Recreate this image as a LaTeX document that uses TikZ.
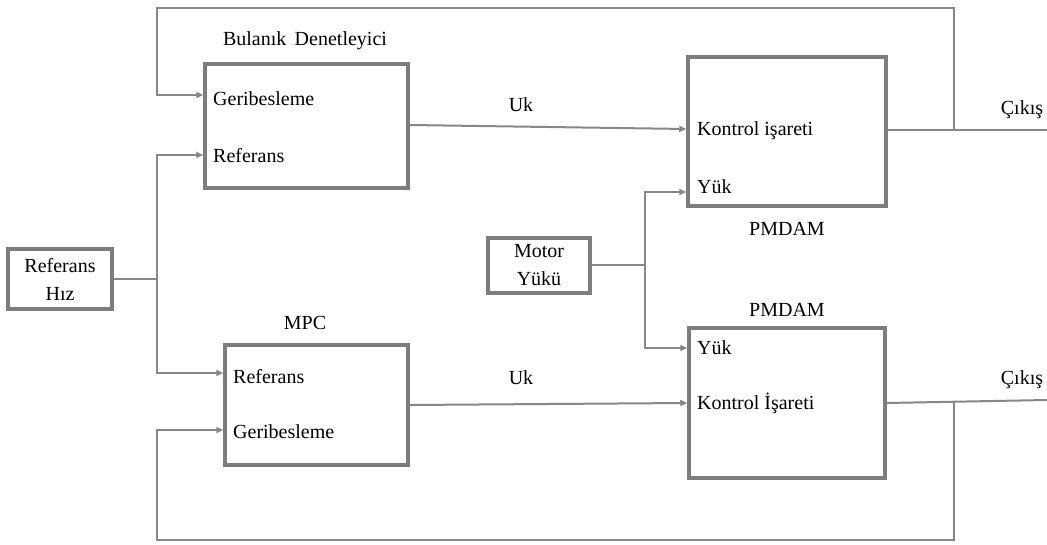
\documentclass[tikz,border=0pt]{standalone}
\usepackage{fontspec}
\setmainfont{Liberation Serif}
\usetikzlibrary{arrows.meta}
\definecolor{boxgray}{RGB}{125,125,125}
\definecolor{wiregray}{RGB}{135,135,135}
\begin{document}
\begin{tikzpicture}[x=1pt,y=-1pt,
  blk/.style={draw=boxgray,line width=3.5pt,inner sep=0pt,fill=white},
  wire/.style={draw=wiregray,line width=2pt},
  arr/.style={wire,-{Triangle[length=7pt,width=6pt]}},
  txt/.style={font=\fontsize{20}{28}\selectfont,inner sep=0pt},
  port/.style={txt,anchor=west},
]
\useasboundingbox (0,0) rectangle (1047,545);

% blocks
\node[blk,minimum width=203pt,minimum height=124pt] (fuzzy) at (306.5,126) {};
\node[blk,minimum width=183pt,minimum height=120pt] (mpc) at (316.5,405) {};
\node[blk,minimum width=198pt,minimum height=149pt] (pmA) at (787,131.5) {};
\node[blk,minimum width=196pt,minimum height=150pt] (pmB) at (787,403) {};
\node[blk,txt,align=center,minimum width=104pt,minimum height=60pt] (ref) at (60,279) {Referans\\Hız};
\node[blk,txt,align=center,minimum width=102pt,minimum height=55pt] (load) at (539,265.5) {Motor\\Yükü};

% block titles
\node[txt] (tFuzzy) at (305,41) {Bulanık\, Denetleyici};
\node[txt] (tMpc) at (305,323) {MPC};
\node[txt] (tPmA) at (787,229) {PMDAM};
\node[txt] (tPmB) at (787,310) {PMDAM};

% port labels
\node[port] (fG) at (213,99) {Geribesleme};
\node[port] (fR) at (213,156) {Referans};
\node[port] (mR) at (233,377) {Referans};
\node[port] (mG) at (233,432) {Geribesleme};
\node[port] (aK) at (697,131) {Kontrol işareti};
\node[port] (aY) at (697,187) {Yük};
\node[port] (bY) at (697,348) {Yük};
\node[port] (bK) at (697,403) {Kontrol İşareti};

% signal labels
\node[txt] (uA) at (521,105) {Uk};
\node[txt] (uB) at (521,378) {Uk};
\node[txt] (cA) at (1022,110) {Çıkış};
\node[txt] (cB) at (1022,380) {Çıkış};

% junctions and free ends
\coordinate (refJ) at (157,279);
\coordinate (loadJ) at (645,265.5);
\coordinate (outA) at (1047,130);
\coordinate (outB) at (1047,400);
\coordinate (fbA) at (954,130);
\coordinate (fbB) at (954,402);

% reference speed distribution
\draw[wire] (ref.east) -- (refJ);
\draw[arr] (refJ) |- (fuzzy.west |- 0,155);
\draw[arr] (refJ) |- (mpc.west |- 0,373);

% motor load distribution
\draw[wire] (load.east) -- (loadJ);
\draw[arr] (loadJ) |- (pmA.west |- 0,192);
\draw[arr] (loadJ) |- (pmB.west |- 0,348);

% control signals
\draw[arr] (fuzzy.east |- 0,125) -- (pmA.west |- 0,129);
\draw[arr] (mpc.east |- 0,405) -- (pmB.west |- 0,403);

% outputs
\draw[wire] (pmA.east |- outA) -- (outA);
\draw[wire] (pmB.east |- 0,403) -- (outB);

% feedback loops
\draw[arr] (fbA) -- (954,8) -- (157,8) |- (fuzzy.west |- 0,95);
\draw[arr] (fbB) -- (954,540) -- (157,540) |- (mpc.west |- 0,430);
\end{tikzpicture}
\end{document}
